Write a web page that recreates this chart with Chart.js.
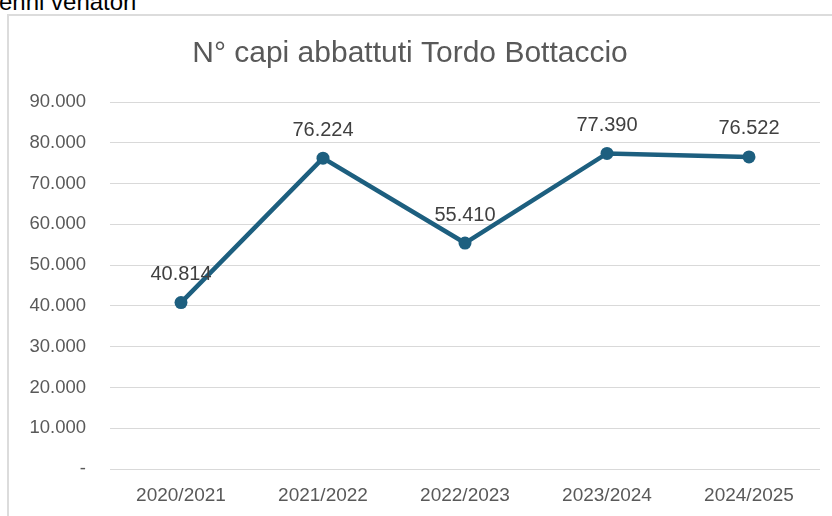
<!DOCTYPE html>
<html>
<head>
<meta charset="utf-8">
<script src="https://cdn.jsdelivr.net/npm/chart.js@4"></script>
<style>
  html, body { margin: 0; padding: 0; background: #fff; overflow: hidden; }
  body { width: 832px; height: 516px; position: relative; }
  #header { position: absolute; left: -1px; top: -10px; font: 24px/24px "Liberation Sans", Arial, sans-serif; color: #000; white-space: nowrap; }
  #frame { position: absolute; left: 7px; top: 14px; width: 840px; height: 520px; border: 2px solid #dcdcdc; box-sizing: border-box; }
  #wrap { position: absolute; left: 0; top: 0; width: 832px; height: 516px; }
</style>
</head>
<body>
<div id="header">enni venatori</div>
<div id="frame"></div>
<div id="wrap"><canvas id="lineChart"></canvas></div>
<script>
const seasons = ['2020/2021', '2021/2022', '2022/2023', '2023/2024', '2024/2025'];
const capi = [40814, 76224, 55410, 77390, 76522];
const chartTitle = 'N° capi abbattuti Tordo Bottaccio';

const lineColor = '#1d5f7f';
const fontFam = '"Liberation Sans", Arial, sans-serif';

// numero con punto delle migliaia
const fmt = (v) => {
  if (v === 0) return '-';
  return String(Math.round(v)).replace(/\B(?=(\d{3})+(?!\d))/g, '.');
};

const valueLabels = {
  id: 'valueLabels',
  afterDatasetsDraw(chart) {
    const { ctx } = chart;
    const meta = chart.getDatasetMeta(0);
    ctx.save();
    ctx.font = '20px ' + fontFam;
    ctx.fillStyle = '#404040';
    ctx.textAlign = 'center';
    ctx.textBaseline = 'middle';
    meta.data.forEach((pt, i) => {
      ctx.fillText(fmt(chart.data.datasets[0].data[i]), pt.x, pt.y - 28);
    });
    ctx.restore();
  }
};

new Chart(document.getElementById('lineChart'), {
  type: 'line',
  data: {
    labels: seasons,
    datasets: [{
      data: capi,
      borderColor: lineColor,
      backgroundColor: lineColor,
      borderWidth: 4.5,
      pointRadius: 6.5,
      pointHoverRadius: 6.5,
      pointBackgroundColor: lineColor,
      pointBorderWidth: 0,
      tension: 0,
    }]
  },
  options: {
    responsive: true,
    maintainAspectRatio: false,
    animation: false,
    layout: {
      padding: { left: 0, right: 12, top: 0, bottom: 8.6 }
    },
    plugins: {
      legend: { display: false },
      tooltip: { enabled: false },
      title: {
        display: true,
        text: chartTitle,
        color: '#595959',
        font: { family: fontFam, size: 30, weight: 'normal' },
        padding: { top: 36, bottom: 30 }
      }
    },
    scales: {
      x: {
        offset: true,
        grid: { display: false, drawTicks: false },
        border: { display: false },
        ticks: {
          color: '#595959',
          font: { family: fontFam, size: 19 },
          padding: 15.6,
          maxRotation: 0
        },
        afterFit(scale) { scale.height = 38.4; }
      },
      y: {
        min: 0,
        max: 90000,
        grid: { color: '#d9d9d9', lineWidth: 1, drawTicks: false },
        border: { display: false },
        ticks: {
          stepSize: 10000,
          color: '#595959',
          font: { family: fontFam, size: 18.5 },
          padding: 24,
          callback: (v) => fmt(v)
        },
        afterFit(scale) { scale.width = 110; }
      }
    }
  },
  plugins: [valueLabels]
});
</script>
</body>
</html>
